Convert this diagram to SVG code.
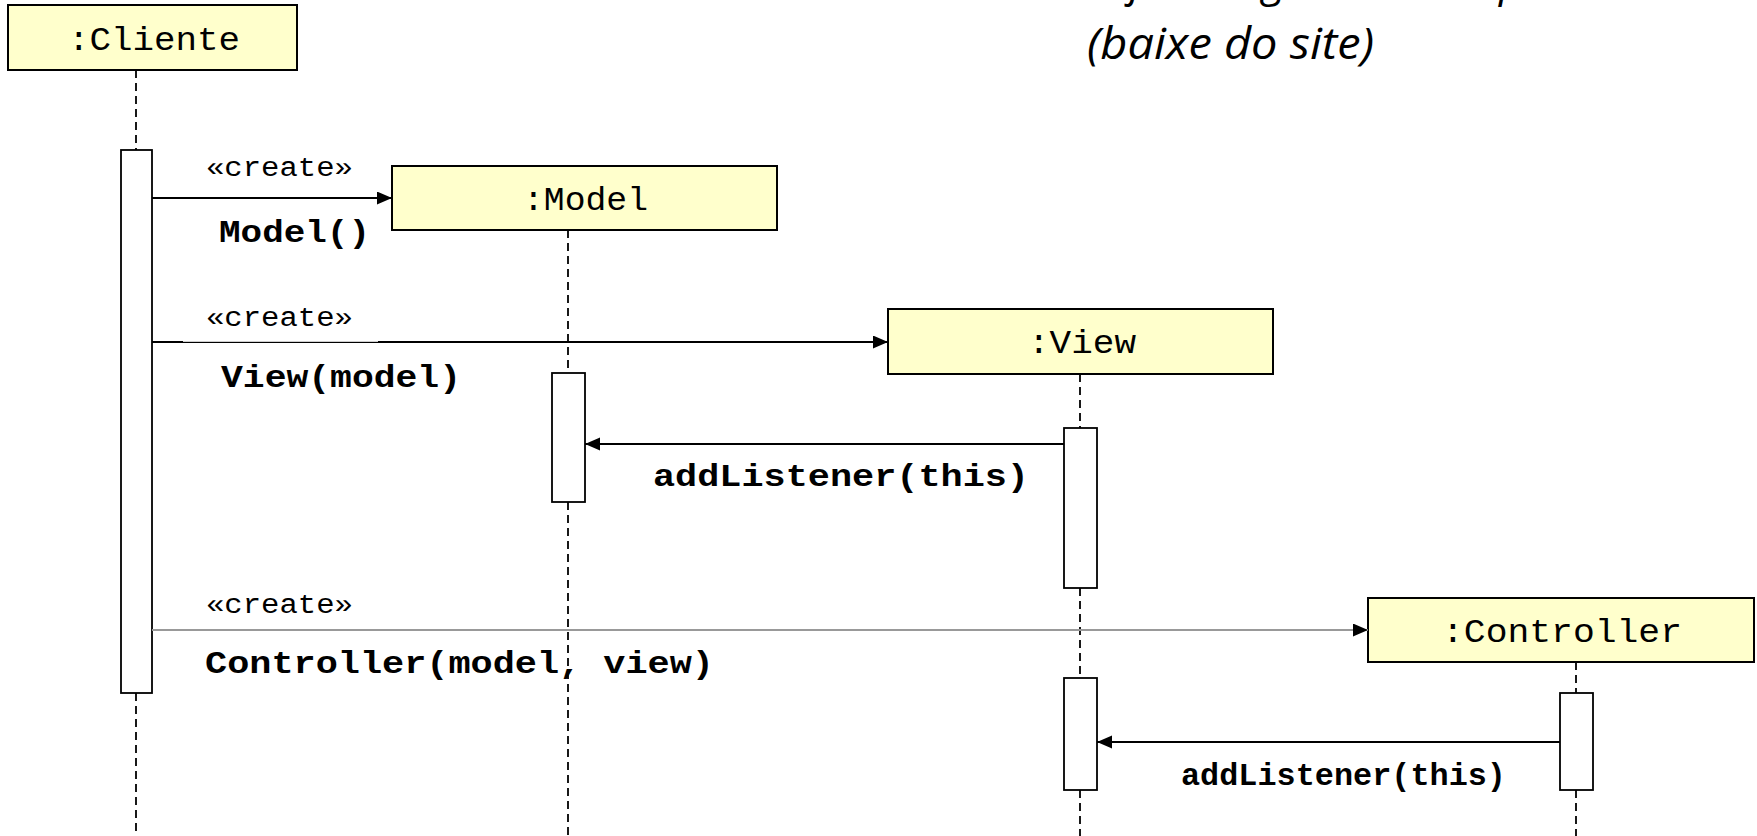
<svg xmlns="http://www.w3.org/2000/svg" width="1757" height="836" viewBox="0 0 1757 836">
<style>
.box{fill:#FFFFCC;stroke:#000;stroke-width:2}
.act{fill:#fff;stroke:#000;stroke-width:1.8}
.life{stroke:#000;stroke-width:1.8;stroke-dasharray:8 5;fill:none}
.msg{stroke:#000;stroke-width:2;fill:none}
.lbl{font-family:"Liberation Mono","Courier New",monospace;font-size:34px;fill:#000}
.st{font-family:"Liberation Mono","Courier New",monospace;font-size:27px;fill:#000}
.op{font-family:"Liberation Mono","Courier New",monospace;font-size:31px;font-weight:bold;fill:#000}
.title{font-family:"Open Sans","DejaVu Sans",sans-serif;font-style:italic;font-size:43px;fill:#000}
</style>
<defs>
<marker id="ah" markerUnits="userSpaceOnUse" markerWidth="16" markerHeight="14" refX="15" refY="6.5" orient="auto">
<path d="M0,0 L15,6.5 L0,13 z" fill="#000"/>
</marker>
</defs>
<rect width="1757" height="836" fill="#fff"/>
<g id="title">
<text class="title" x="1130" y="-4">j</text>
<text class="title" x="1262" y="-4">g</text>
<text class="title" x="1499" y="-4">p</text>
<text class="title" x="1087" y="59" textLength="287" lengthAdjust="spacingAndGlyphs">(baixe do site)</text>
</g>
<g id="lifelines">
<line class="life" x1="136" y1="70" x2="136" y2="150"/>
<line class="life" x1="136" y1="693" x2="136" y2="836"/>
<line class="life" x1="568" y1="230" x2="568" y2="373"/>
<line class="life" x1="568" y1="502" x2="568" y2="836"/>
<line class="life" x1="1080" y1="374" x2="1080" y2="428"/>
<line class="life" x1="1080" y1="588" x2="1080" y2="678"/>
<line class="life" x1="1080" y1="790" x2="1080" y2="836"/>
<line class="life" x1="1576" y1="662" x2="1576" y2="693"/>
<line class="life" x1="1576" y1="790" x2="1576" y2="836"/>
</g>
<g id="node-cliente">
<rect class="box" x="8" y="5" width="289" height="65"/>
<text class="lbl" x="68" y="50" textLength="172" lengthAdjust="spacingAndGlyphs">:Cliente</text>
<rect class="act" x="121" y="150" width="31" height="543"/>
</g>
<g id="node-model">
<rect class="box" x="392" y="166" width="385" height="64"/>
<text class="lbl" x="523" y="210" textLength="125" lengthAdjust="spacingAndGlyphs">:Model</text>
<rect class="act" x="552" y="373" width="33" height="129"/>
</g>
<g id="node-view">
<rect class="box" x="888" y="309" width="385" height="65"/>
<text class="lbl" x="1028" y="353" textLength="108" lengthAdjust="spacingAndGlyphs">:View</text>
<rect class="act" x="1064" y="428" width="33" height="160"/>
<rect class="act" x="1064" y="678" width="33" height="112"/>
</g>
<g id="node-controller">
<rect class="box" x="1368" y="598" width="386" height="64"/>
<text class="lbl" x="1442" y="642" textLength="240" lengthAdjust="spacingAndGlyphs">:Controller</text>
<rect class="act" x="1560" y="693" width="33" height="97"/>
</g>
<g id="connectors">
<line class="msg" x1="152" y1="198" x2="392" y2="198" marker-end="url(#ah)"/>
<line class="msg" x1="152" y1="342" x2="888" y2="342" marker-end="url(#ah)"/>
<rect x="183" y="340.6" width="195" height="1.2" fill="#fff"/>
<line class="msg" x1="1064" y1="444" x2="585" y2="444" marker-end="url(#ah)"/>
<line x1="152" y1="630" x2="1368" y2="630" stroke="#999" stroke-width="2" marker-end="url(#ah)"/>
<line class="msg" x1="1560" y1="742" x2="1097" y2="742" marker-end="url(#ah)"/>
</g>
<g id="labels">
<text class="st" x="206" y="176" textLength="147" lengthAdjust="spacingAndGlyphs">«create»</text>
<text class="op" x="219" y="242" textLength="151" lengthAdjust="spacingAndGlyphs">Model()</text>
<text class="st" x="206" y="326" textLength="147" lengthAdjust="spacingAndGlyphs">«create»</text>
<text class="op" x="221" y="387" textLength="240" lengthAdjust="spacingAndGlyphs">View(model)</text>
<text class="op" x="653" y="486" textLength="376" lengthAdjust="spacingAndGlyphs">addListener(this)</text>
<text class="st" x="206" y="613" textLength="147" lengthAdjust="spacingAndGlyphs">«create»</text>
<text class="op" x="205" y="673" textLength="509" lengthAdjust="spacingAndGlyphs">Controller(model, view)</text>
<text class="op" x="1181" y="785" font-size="25" textLength="325" lengthAdjust="spacingAndGlyphs">addListener(this)</text>
</g>
</svg>
